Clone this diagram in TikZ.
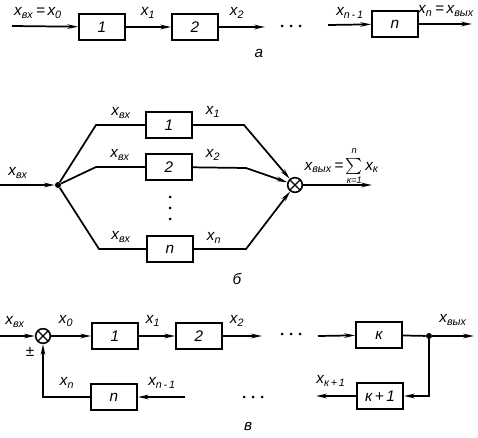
\documentclass[tikz,border=0pt]{standalone}
\usepackage{fontspec}
\usepackage{amsmath}
\setmainfont{Liberation Sans}
\usepackage{tikz}
\usetikzlibrary{arrows.meta,positioning}

\newcommand{\xv}[1]{\textit{x}\textsubscript{\textit{#1}}}

\begin{document}
\begin{tikzpicture}[
  x=0.75pt,y=-0.75pt,
  font=\fontsize{11.5}{13}\selectfont\itshape,
  blk/.style={rectangle,draw=black,line width=1.3pt,minimum width=34.5pt,
              minimum height=20pt,inner sep=0pt},
  summ/.style={circle,draw=black,line width=1.2pt,minimum size=11pt,inner sep=0pt,
               path picture={\draw[line width=1pt]
                 (path picture bounding box.north west)--(path picture bounding box.south east)
                 (path picture bounding box.north east)--(path picture bounding box.south west);}},
  junc/.style={circle,fill=black,minimum size=4.5pt,inner sep=0pt},
  lbl/.style={inner sep=1pt},
  wire/.style={line width=1.3pt},
  arr/.style={wire,-{Stealth[length=8pt,width=3.4pt]}}
]
  \useasboundingbox (0,0) rectangle (478,438);

  % a -- series chain
  \coordinate (a0) at (12,26);
  \node[blk] (a1) at (102,27) {1};
  \node[blk] (a2) at (195,27) {2};
  \coordinate (a2o) at (265,27);
  \coordinate (ani) at (328,25);
  \node[blk] (an) at (395,24) {n};
  \coordinate (aout) at (472,24);
  \draw[arr] (a0) -- (a1);
  \draw[arr] (a1) -- (a2);
  \draw[arr] (a2) -- (a2o);
  \draw[arr] (ani) -- (an);
  \draw[arr] (an) -- (aout);
  \foreach \dx in {282,291,300} \fill (\dx,26) circle (1.5);
  \node[lbl] (la0) at (38,13) {\xv{вх}\,=\,\xv{0}};
  \node[lbl] (la1) at (148,13) {\xv{1}};
  \node[lbl] (la2) at (237,13) {\xv{2}};
  \node[lbl] (lani) at (350,13) {\xv{n\,-\,1}};
  \node[lbl] (laout) at (446,11) {\xv{n}\,=\,\xv{вых}};
  \node[lbl] (capa) at (259,53) {а};

  % b -- parallel branches
  \coordinate (b0) at (0,185);
  \node[junc] (bj) at (58,185) {};
  \coordinate (k1) at (96,125);
  \coordinate (k2) at (96,167);
  \coordinate (kn) at (99,249);
  \node[blk] (b1) at (169,125) {1};
  \node[blk] (b2) at (169,167) {2};
  \node[blk] (bn) at (170,249) {n};
  \coordinate (r1) at (244,125);
  \coordinate (r2) at (246,168);
  \coordinate (rn) at (246,249);
  \node[summ] (bs) at (295,185) {};
  \coordinate (bout) at (372,185);
  \draw[arr] (b0) -- (bj);
  \draw[wire] (bj) -- (k1) -- (b1);
  \draw[wire] (bj) -- (k2) -- (b2);
  \draw[wire] (bj) -- (kn) -- (bn);
  \draw[arr] (b1) -- (r1) -- (bs);
  \draw[arr] (b2) -- (r2) -- (bs);
  \draw[arr] (bn) -- (rn) -- (bs);
  \draw[arr] (bs) -- (bout);
  \foreach \dy in {197,208,219} \fill (170,\dy) circle (1.5);
  \node[lbl] (lb0) at (18,173) {\xv{вх}};
  \node[lbl] (lbk1) at (121,113) {\xv{вх}};
  \node[lbl] (lbk2) at (120,155) {\xv{вх}};
  \node[lbl] (lbkn) at (121,237) {\xv{вх}};
  \node[lbl] (lb1) at (213,112) {\xv{1}};
  \node[lbl] (lb2) at (213,155) {\xv{2}};
  \node[lbl] (lbn) at (214,238) {\xv{n}};
  \node[lbl,anchor=west] (lbout) at (303,166)
    {\xv{вых}\,=\,$\sum\limits_{\text{\scriptsize\itshape к=1}}^{\raisebox{1.5pt}{\scriptsize\itshape n}}$\,\xv{к}};
  \node[lbl] (capb) at (237,279) {б};

  % c -- chain with feedback
  \coordinate (c0) at (0,336);
  \node[summ] (cs) at (43,336) {};
  \node[blk] (c1) at (115,336) {1};
  \node[blk] (c2) at (199,336) {2};
  \coordinate (c2o) at (262,336);
  \coordinate (cki) at (318,336);
  \node[blk] (ck) at (379,335) {к};
  \node[junc] (cd) at (429,336) {};
  \coordinate (cout) at (474,336);
  \coordinate (cfb) at (429,396);
  \node[blk] (ck1) at (380,396) {к\,+\,1};
  \coordinate (ck1o) at (316,396);
  \coordinate (cni) at (185,397);
  \node[blk] (cn) at (114,397) {n};
  \coordinate (cnl) at (43,397);
  \draw[arr] (c0) -- (cs);
  \draw[arr] (cs) -- (c1);
  \draw[arr] (c1) -- (c2);
  \draw[arr] (c2) -- (c2o);
  \draw[arr] (cki) -- (ck);
  \draw[wire] (ck) -- (cd);
  \draw[arr] (cd) -- (cout);
  \draw[arr] (cd) -- (cfb) -- (ck1);
  \draw[arr] (ck1) -- (ck1o);
  \draw[arr] (cni) -- (cn);
  \draw[arr] (cn) -- (cnl) -- (cs);
  \foreach \dx in {282,291,300} \fill (\dx,334) circle (1.5);
  \foreach \dx in {244,253,262} \fill (\dx,397) circle (1.5);
  \node[lbl] (lc0) at (15,322) {\xv{вх}};
  \node[lbl] (lpm) at (30,352) {±};
  \node[lbl] (lc00) at (66,321) {\xv{0}};
  \node[lbl] (lc1) at (153,321) {\xv{1}};
  \node[lbl] (lc2) at (237,321) {\xv{2}};
  \node[lbl] (lcout) at (453,320) {\xv{вых}};
  \node[lbl] (lck1) at (331,381) {\xv{к\,+\,1}};
  \node[lbl] (lcni) at (162,383) {\xv{n\,-\,1}};
  \node[lbl] (lcn) at (67,383) {\xv{n}};
  \node[lbl] (capc) at (248,426) {в};
\end{tikzpicture}
\end{document}
